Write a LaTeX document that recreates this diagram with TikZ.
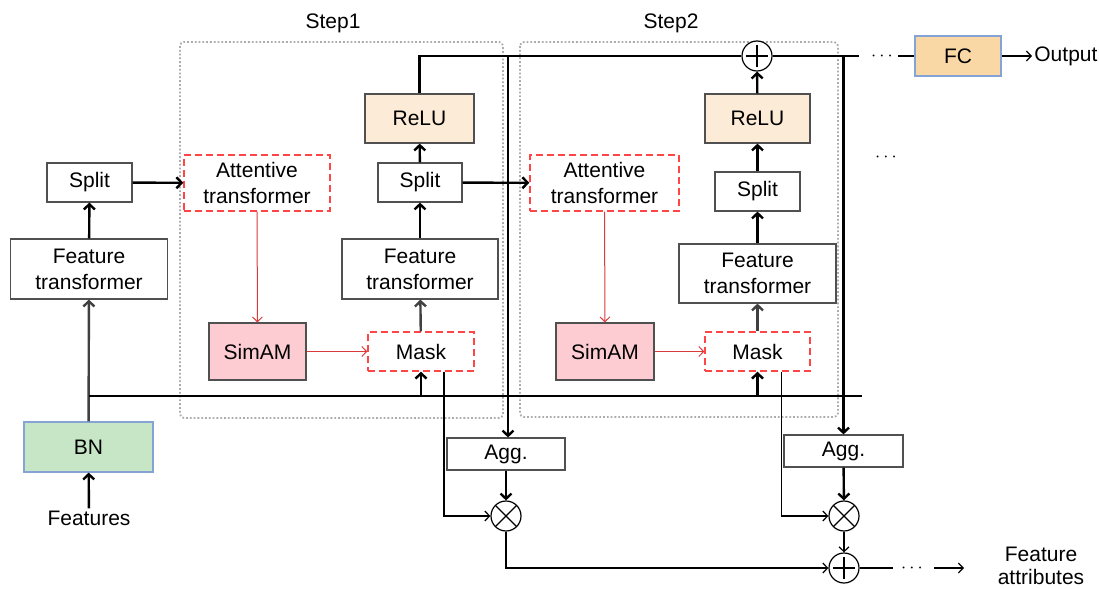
\documentclass[tikz,border=0pt]{standalone}
\usepackage{fontspec}
\setmainfont{Liberation Sans}
\usepackage{tikz}
\usetikzlibrary{positioning, arrows.meta}
\definecolor{reluorange}{HTML}{FCEBD6}
\definecolor{fcorange}{HTML}{FAD8A6}
\definecolor{bngreen}{HTML}{C6E6C6}
\definecolor{simpink}{HTML}{FDCBD2}
\definecolor{edgeblue}{HTML}{86A3D6}
\definecolor{dashred}{HTML}{FF4545}
\definecolor{boxgray}{HTML}{505050}
\definecolor{darkline}{HTML}{404040}
\tikzset{
    block/.style = {rectangle, draw = boxgray, line width = 0.6pt, fill = white, align = center, inner sep = 1pt, font = \fontsize{10.5}{13}\selectfont},
    attn/.style = {block, draw = dashred, dash pattern = on 3.5pt off 2pt, line width = 0.7pt},
    op/.style = {circle, draw = black, line width = 0.6pt, fill = white, minimum size = 15pt, inner sep = 0pt},
    plusop/.style = {op, path picture = {
        \draw [line width = 0.6pt] ([xshift = -5.5pt]path picture bounding box.center) -- ([xshift = 5.5pt]path picture bounding box.center);
        \draw [line width = 0.6pt] ([yshift = -5.5pt]path picture bounding box.center) -- ([yshift = 5.5pt]path picture bounding box.center);}},
    timesop/.style = {op, path picture = {
        \draw [line width = 0.6pt] ([shift = {(-5.3pt,-5.3pt)}]path picture bounding box.center) -- ([shift = {(5.3pt,5.3pt)}]path picture bounding box.center);
        \draw [line width = 0.6pt] ([shift = {(-5.3pt,5.3pt)}]path picture bounding box.center) -- ([shift = {(5.3pt,-5.3pt)}]path picture bounding box.center);}},
    txt/.style = {inner sep = 1pt, align = center, font = \fontsize{10.5}{11.5}\selectfont},
    dots/.style = {inner sep = 0pt, font = \fontsize{9}{9}\selectfont},
    stepframe/.style = {draw = gray!65, densely dotted, line width = 0.9pt, rounded corners = 2pt},
    bus/.style = {line width = 1.2pt},
    flow/.style = {line width = 1.2pt, -{Straight Barb[length = 2.6pt, width = 5.5pt]}},
    wire/.style = {line width = 0.6pt},
    wireflow/.style = {line width = 0.6pt, -{Straight Barb[length = 2.4pt, width = 5pt]}},
    redflow/.style = {draw = dashred!85!black, line width = 0.5pt, -{Straight Barb[length = 2.4pt, width = 5pt]}}
}

\begin{document}
\begin{tikzpicture}[x = 0.5pt, y = -0.5pt]
    \useasboundingbox (0, 0) rectangle (1099, 589);
    % step frames
    \draw [stepframe] (180, 42) rectangle (503, 418);
    \draw [stepframe] (520, 42) rectangle (838, 417);
    \node [txt] (s1lab) at (333, 23) {Step1};
    \node [txt] (s2lab) at (671, 23) {Step2};

    % input part
    \node [txt] (feat) at (89, 518) {Features};
    \node [block, fill = bngreen, draw = edgeblue, minimum width = 64.5pt, minimum height = 25pt] (bn) at (88.5, 447) {BN};
    \node [block, minimum width = 78.5pt, minimum height = 30pt] (ftL) at (89, 269) {Feature\\transformer};
    \node [block, minimum width = 42.5pt, minimum height = 19.5pt] (splitL) at (89.5, 182.5) {Split};

    % step 1
    \node [attn, minimum width = 73pt, minimum height = 28pt] (att1) at (257, 183) {Attentive\\transformer};
    \node [block, fill = simpink, minimum width = 48.5pt, minimum height = 28.5pt] (simam1) at (257.5, 351.5) {SimAM};
    \node [attn, minimum width = 53pt, minimum height = 19.5pt] (mask1) at (421, 351.5) {Mask};
    \node [block, minimum width = 78pt, minimum height = 30pt] (ft1) at (420, 269) {Feature\\transformer};
    \node [block, minimum width = 42pt, minimum height = 19.5pt] (split1) at (420, 182.5) {Split};
    \node [block, fill = reluorange, minimum width = 54.5pt, minimum height = 24.5pt] (relu1) at (419.5, 118.5) {ReLU};

    % step 2
    \node [attn, minimum width = 74.5pt, minimum height = 28pt] (att2) at (604.5, 183) {Attentive\\transformer};
    \node [block, fill = simpink, minimum width = 49pt, minimum height = 28.5pt] (simam2) at (605, 351.5) {SimAM};
    \node [attn, minimum width = 52.5pt, minimum height = 19.5pt] (mask2) at (757.5, 351.5) {Mask};
    \node [block, minimum width = 78.5pt, minimum height = 29.5pt] (ft2) at (757.5, 273.5) {Feature\\transformer};
    \node [block, minimum width = 42.5pt, minimum height = 19.5pt] (split2) at (757.5, 191.5) {Split};
    \node [block, fill = reluorange, minimum width = 52.5pt, minimum height = 24.5pt] (relu2) at (757.5, 118.5) {ReLU};
    \node [plusop] (plusT) at (757, 56) {};

    % output part
    \node [dots] (dotsA) at (882, 56) {$\cdots$};
    \node [block, fill = fcorange, draw = edgeblue, minimum width = 43pt, minimum height = 20pt] (fc) at (958, 56) {FC};
    \node [txt, anchor = west] (out) at (1032, 56) {Output};
    \node [dots] (dotsC) at (886, 157) {$\cdots$};

    % aggregation part
    \node [block, minimum width = 59pt, minimum height = 16pt] (agg1) at (506, 454) {Agg.};
    \node [block, minimum width = 59.5pt, minimum height = 16pt] (agg2) at (843.5, 451) {Agg.};
    \node [timesop] (times1) at (506, 516) {};
    \node [timesop] (times2) at (844, 516) {};
    \node [plusop] (plusB) at (844, 568) {};
    \node [dots] (dotsB) at (912, 568) {$\cdots$};
    \node [txt, align = center, font = \fontsize{10.5}{11.5}\selectfont] (fattr) at (1041, 566) {Feature\\attributes};

    \coordinate (topR) at (859, 56);
    \coordinate (busL) at (89, 396);
    \coordinate (busR) at (862, 396);

    % connectors
    \draw [flow] (feat) -- (bn);
    \draw [flow, darkline] (bn) -- (ftL);
    \draw [flow] (ftL) -- (splitL);
    \draw [flow] (splitL) -- (att1);
    \draw [bus] (busL) -- (busR);
    \draw [redflow] (att1) -- (simam1);
    \draw [redflow] (simam1) -- (mask1);
    \draw [flow] (mask1.south |- busL) -- (mask1.south);
    \draw [flow, darkline] (mask1) -- (ft1);
    \draw [flow] (ft1) -- (split1);
    \draw [flow] (split1) -- (relu1);
    \draw [flow] (split1) -- (att2);
    \draw [redflow] (att2) -- (simam2);
    \draw [redflow] (simam2) -- (mask2);
    \draw [flow] (mask2.south |- busL) -- (mask2.south);
    \draw [flow, darkline] (mask2) -- (ft2);
    \draw [flow] (ft2) -- (split2);
    \draw [flow] (split2) -- (relu2);
    \draw [flow] (relu2) -- (plusT);
    \draw [bus] (relu1.north) |- (plusT.west);
    \draw [bus] (plusT.east) -- (topR);
    \draw [flow] ([xshift = 1pt]agg1.north |- topR) -- ([xshift = 1pt]agg1.north);
    \draw [flow] (agg2.north |- topR) -- (agg2.north);
    \draw [wire] ([xshift = 8pt]dotsA.center) -- (fc.west);
    \draw [wireflow] (fc) -- (out);
    \draw [flow] (agg1) -- (times1);
    \draw [flow] (agg2) -- (times2);
    \draw [wireflow] ([xshift = 11.5pt]mask1.south) |- (times1.west);
    \draw [wireflow] ([xshift = 12pt]mask2.south) |- (times2.west);
    \draw [wireflow] (times1.south) |- (plusB.west);
    \draw [wireflow] (times2) -- (plusB);
    \draw [wire, shorten >= 4pt] (plusB.east) -- (dotsB.west);
    \draw [wireflow] ([xshift = 11pt]dotsB.center) -- ([xshift = 26pt]dotsB.center);
\end{tikzpicture}
\end{document}
